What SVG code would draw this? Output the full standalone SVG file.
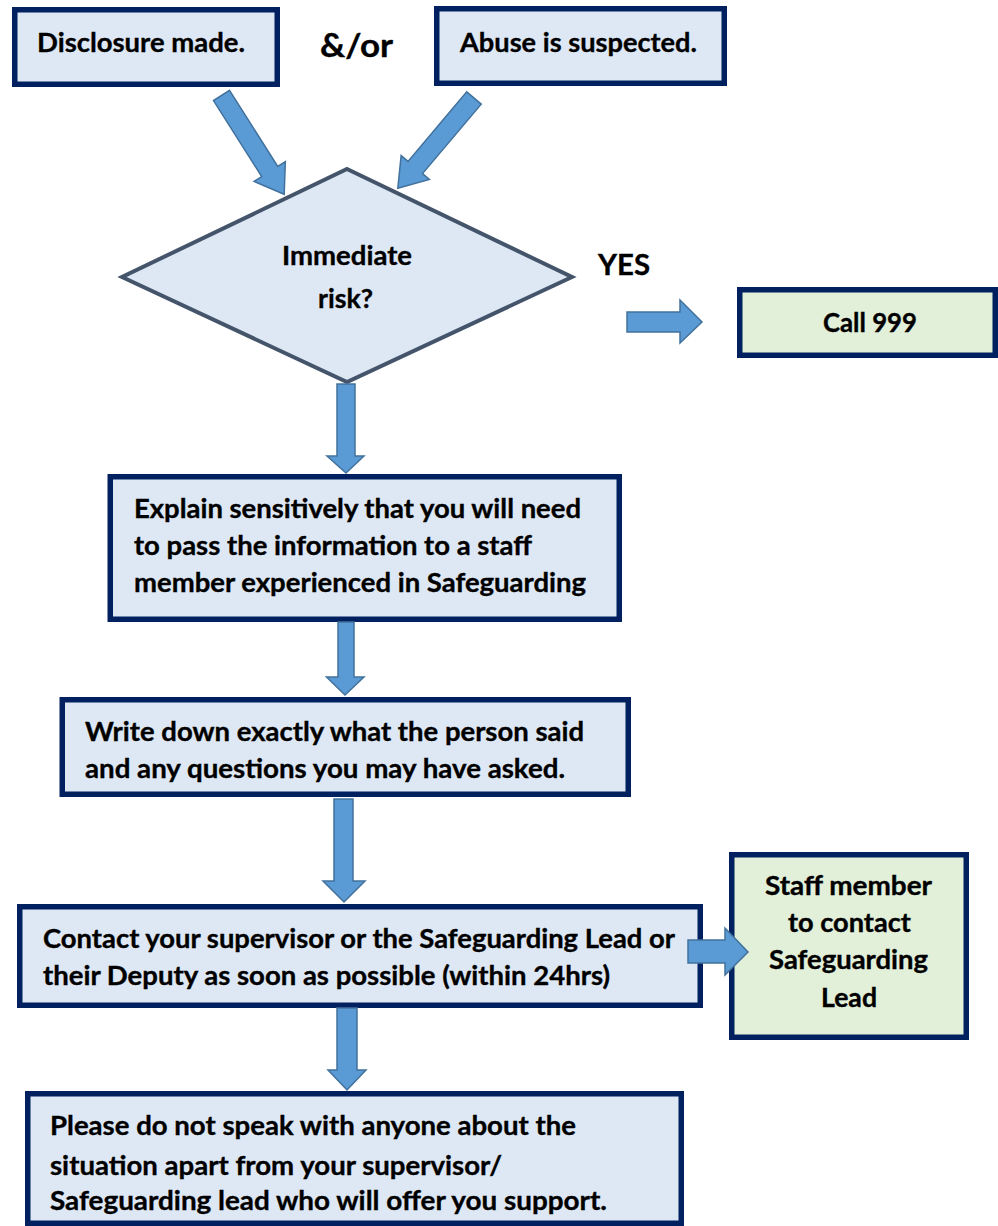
<svg xmlns="http://www.w3.org/2000/svg" width="998" height="1226" viewBox="0 0 998 1226">
<style>
.box{fill:#dee8f4;stroke:#002060;stroke-width:5.5}
.gbox{fill:#e2efd9;stroke:#002060;stroke-width:5.5}
.dia{fill:#dee8f4;stroke:#44546a;stroke-width:4;stroke-linejoin:miter}
.arr{fill:#5b9bd5;stroke:#41719c;stroke-width:1.5;stroke-linejoin:miter}
text{font-family:Lato,"Open Sans","Liberation Sans",sans-serif;font-weight:bold;fill:#000;stroke:#000;stroke-width:0.35;font-size:26px}
.big{font-size:27.5px}
.lbl{font-size:33px}
.yes{font-size:28px}
</style>
<rect width="998" height="1226" fill="#fff"/>
<g id="disclosure">
  <rect class="box" x="14.75" y="9.75" width="262.5" height="74.5"/>
  <text class="big" x="37" y="52" textLength="208" lengthAdjust="spacingAndGlyphs">Disclosure made.</text>
</g>
<g id="andor">
  <text class="lbl" x="320" y="57" textLength="73" lengthAdjust="spacingAndGlyphs">&amp;/or</text>
</g>
<g id="abuse">
  <rect class="box" x="436.75" y="8.75" width="287.5" height="74.5"/>
  <text class="big" x="460" y="52" textLength="237" lengthAdjust="spacingAndGlyphs">Abuse is suspected.</text>
</g>
<g id="risk">
  <polygon class="dia" points="347,169 572,277 347,382 122,277"/>
  <text x="282" y="265" textLength="130" lengthAdjust="spacingAndGlyphs">Immediate</text>
  <text x="318" y="308" textLength="55" lengthAdjust="spacingAndGlyphs">risk?</text>
</g>
<g id="yes">
  <text class="yes" x="598" y="275" textLength="52" lengthAdjust="spacingAndGlyphs">YES</text>
</g>
<g id="call999">
  <rect class="gbox" x="739.75" y="289.75" width="255.5" height="65.5"/>
  <text x="823" y="332" textLength="94" lengthAdjust="spacingAndGlyphs">Call 999</text>
</g>
<g id="explain">
  <rect class="box" x="110.25" y="476.75" width="509" height="142.5"/>
  <text x="134" y="518" textLength="447" lengthAdjust="spacingAndGlyphs">Explain sensitively that you will need</text>
  <text x="134" y="555" textLength="398" lengthAdjust="spacingAndGlyphs">to pass the information to a staff</text>
  <text x="134" y="592" textLength="452" lengthAdjust="spacingAndGlyphs">member experienced in Safeguarding</text>
</g>
<g id="write">
  <rect class="box" x="62.25" y="699.75" width="566" height="94.5"/>
  <text x="85" y="741" textLength="499" lengthAdjust="spacingAndGlyphs">Write down exactly what the person said</text>
  <text x="85" y="778" textLength="480" lengthAdjust="spacingAndGlyphs">and any questions you may have asked.</text>
</g>
<g id="contact">
  <rect class="box" x="19.75" y="906.75" width="680.5" height="98.5"/>
  <text x="43" y="948" textLength="632" lengthAdjust="spacingAndGlyphs">Contact your supervisor or the Safeguarding Lead or</text>
  <text x="43" y="985" textLength="567" lengthAdjust="spacingAndGlyphs">their Deputy as soon as possible (within 24hrs)</text>
</g>
<g id="staff">
  <rect class="gbox" x="731.75" y="854.75" width="234.5" height="182.5"/>
  <text x="765" y="895" textLength="167" lengthAdjust="spacingAndGlyphs">Staff member</text>
  <text x="788" y="932" textLength="123" lengthAdjust="spacingAndGlyphs">to contact</text>
  <text x="769" y="969" textLength="159" lengthAdjust="spacingAndGlyphs">Safeguarding</text>
  <text x="821" y="1007" textLength="56" lengthAdjust="spacingAndGlyphs">Lead</text>
</g>
<g id="nospeak">
  <rect class="box" x="27.75" y="1093.75" width="653.5" height="129.5"/>
  <text x="50" y="1135" textLength="526" lengthAdjust="spacingAndGlyphs">Please do not speak with anyone about the</text>
  <text x="50" y="1175" textLength="452" lengthAdjust="spacingAndGlyphs">situation apart from your supervisor/</text>
  <text x="50" y="1210" textLength="557" lengthAdjust="spacingAndGlyphs">Safeguarding lead who will offer you support.</text>
</g>
<g id="connectors">
  <path class="arr" transform="translate(221.5,95.5) rotate(57.6)" d="M0,-9.5 H90 V-18.5 L117,0 L90,18.5 V9.5 H0 Z"/>
  <path class="arr" transform="translate(474,98) rotate(130.2)" d="M0,-9.5 H91 V-18.5 L118,0 L91,18.5 V9.5 H0 Z"/>
  <path class="arr" d="M627,312 H680 V300 L702,322 L680,343 V332 H627 Z"/>
  <path class="arr" d="M337,384 H355 V456 H364 L346,473 L327,456 H337 Z"/>
  <path class="arr" d="M338,622 H354 V677 H364 L345,695 L326.5,677 H338 Z"/>
  <path class="arr" d="M334,799 H353 V881 H365 L344,902 L323,881 H334 Z"/>
  <path class="arr" d="M688,940 H725 V928 L748,952 L725,975 V963 H688 Z"/>
  <path class="arr" d="M337,1008 H357 V1070 H366 L347,1090 L328,1070 H337 Z"/>
</g>
</svg>
